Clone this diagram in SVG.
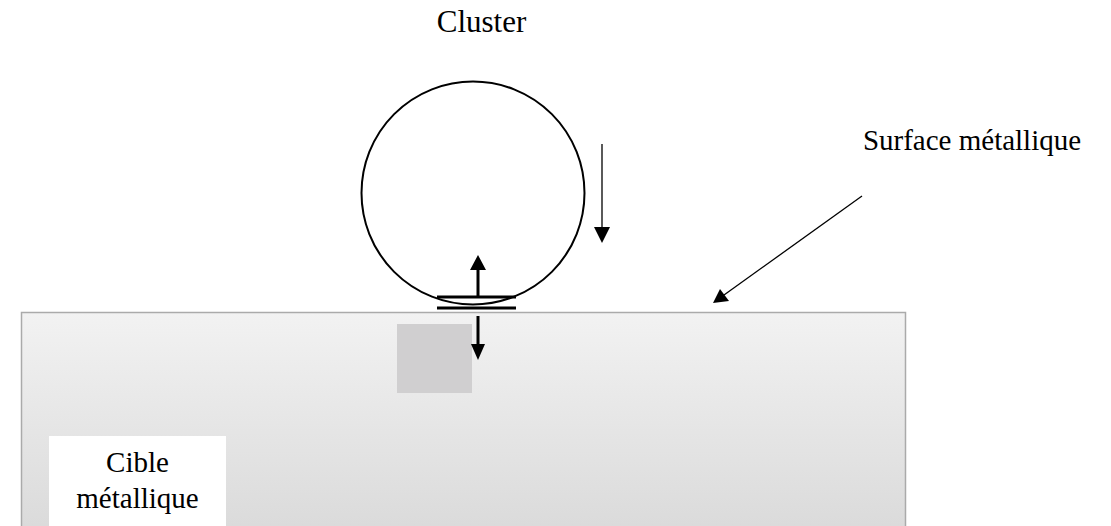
<svg xmlns="http://www.w3.org/2000/svg" width="1111" height="526" viewBox="0 0 1111 526">
<defs>
<linearGradient id="g" x1="0" y1="0" x2="0" y2="1">
<stop offset="0" stop-color="#f2f2f2"/>
<stop offset="1" stop-color="#d9d9d9"/>
</linearGradient>
</defs>
<style>
text{font-family:"Liberation Serif","Times New Roman",serif;font-size:29px;fill:#000}
.thin{stroke:#000;stroke-width:1.3;fill:none}
.thick{stroke:#000;stroke-width:3;fill:none}
.head{fill:#000}
</style>
<rect width="1111" height="526" fill="#fff"/>
<g id="target">
<rect x="21.5" y="312.5" width="884" height="230" fill="url(#g)" stroke="#aaaaaa" stroke-width="1.5"/>
<rect x="397" y="324" width="75" height="69" fill="#d0cfd0"/>
<rect x="49" y="436" width="177" height="100" fill="#fff"/>
<text x="137.5" y="472" text-anchor="middle">Cible</text>
<text x="137.5" y="508" text-anchor="middle">métallique</text>
</g>
<g id="cluster">
<circle cx="473" cy="193" r="111.5" fill="none" stroke="#000" stroke-width="2"/>
<text x="481.5" y="32" text-anchor="middle" style="font-size:31px">Cluster</text>
</g>
<g id="contact">
<line x1="437" y1="297" x2="516" y2="297" class="thick"/>
<line x1="437" y1="308" x2="516" y2="308" class="thick"/>
</g>
<g id="surface-label">
<text x="972" y="150" text-anchor="middle">Surface métallique</text>
</g>
<g id="connectors">
<line x1="478" y1="297" x2="478" y2="268" class="thick"/>
<path d="M470,270 L486,270 L478,255 z" class="head"/>
<line x1="478" y1="316" x2="478" y2="346" class="thick"/>
<path d="M471,344 L485,344 L478,360 z" class="head"/>
<path d="M602,144 V227" class="thin"/>
<path d="M594,227 L610,227 L602,243 z" class="head"/>
<path d="M862,196 L724,295" class="thin"/>
<path d="M713,303 L720,289 L729,301 z" class="head"/>
</g>
</svg>
